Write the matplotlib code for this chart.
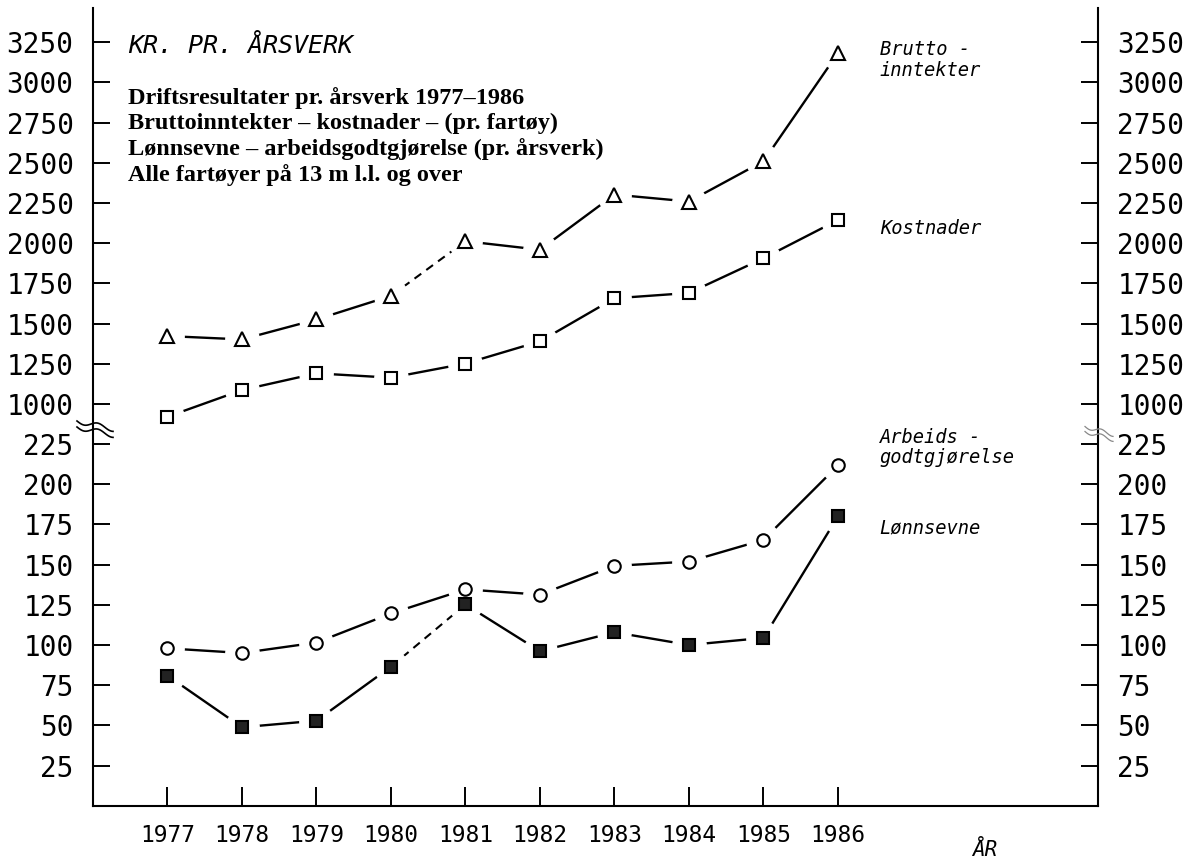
import numpy as np
import matplotlib
matplotlib.use("Agg")
import matplotlib.pyplot as plt

# ---------------- data ----------------
years = [1977, 1978, 1979, 1980, 1981, 1982, 1983, 1984, 1985, 1986]
brutto = [1422, 1401, 1525, 1672, 2012, 1959, 2302, 2259, 2510, 3183]
kostnader = [920, 1086, 1190, 1163, 1251, 1389, 1657, 1690, 1906, 2144]
arbeid = [97.9, 95.0, 101.5, 119.6, 134.6, 131.3, 149.2, 151.9, 165.4, 211.7]
lonnsevne = [80.9, 48.8, 52.9, 86.5, 125.2, 96.1, 107.9, 100.0, 104.4, 180.0]

lower_ticks = [25, 50, 75, 100, 125, 150, 175, 200, 225]
upper_ticks = [1000, 1250, 1500, 1750, 2000, 2250, 2500, 2750, 3000, 3250]

title = "KR. PR. ÅRSVERK"
info_lines = ["Driftsresultater pr. årsverk 1977–1986",
              "Bruttoinntekter – kostnader – (pr. fartøy)",
              "Lønnsevne – arbeidsgodtgjørelse (pr. årsverk)",
              "Alle fartøyer på 13 m l.l. og over"]
xlabel = "ÅR"

plt.rcParams['font.family'] = ['DejaVu Sans Mono', 'DejaVu Sans']

W, H = 1188, 864
fig = plt.figure(figsize=(W / 100, H / 100), dpi=100)
ax_bottom_px, ax_top_px = 805.7, 8.0
ax = fig.add_axes([93 / W, (H - ax_bottom_px) / H, (1098 - 93) / W,
                   (ax_bottom_px - ax_top_px) / H])

# broken y scale: lower part 25 per unit, upper part 250 per unit
V = np.array([-1000., 235., 900., 10000.])
U = np.array([-40., 9.4, 9.6, 46.])
def fwd(v):
    return np.interp(v, V, U)
def inv(u):
    return np.interp(u, U, V)
ax.set_yscale('function', functions=(fwd, inv))
ax.set_ylim(0, 3463)
ax.set_xlim(1976, 1989.49)

def draw(vals, dashed=None):
    for i in range(len(years) - 1):
        if i == dashed:
            ax.plot(years[i:i + 2], vals[i:i + 2], color='k', lw=1.5,
                    linestyle=(0, (4, 3)), zorder=2)
        else:
            ax.plot(years[i:i + 2], vals[i:i + 2], color='k', lw=1.7, zorder=2)
    ax.plot(years, vals, ls='none', marker='o', ms=24, mfc='white',
            mec='white', zorder=3)

draw(brutto, dashed=3)
draw(kostnader)
draw(arbeid)
draw(lonnsevne, dashed=3)
for vals, marker, ms, face in [(brutto, '^', 10, 'white'),
                               (kostnader, 's', 9, 'white'),
                               (arbeid, 'o', 9, 'white'),
                               (lonnsevne, 's', 9, '#222222')]:
    ax.plot(years, vals, ls='none', marker=marker, ms=ms, mfc=face,
            mec='k', mew=1.5, zorder=4)

# axes styling
ax.spines['top'].set_visible(False)
for s in ['left', 'right', 'bottom']:
    ax.spines[s].set_linewidth(1.5)

ax.set_yticks(lower_ticks + upper_ticks)
ax.set_yticklabels([str(t) for t in lower_ticks + upper_ticks])
ax.set_xticks(years)
ax.set_xticklabels([str(y) for y in years])
ax.yaxis.set_minor_locator(matplotlib.ticker.NullLocator())
ax.tick_params(axis='y', which='both', direction='in', length=12, width=1.4,
               left=True, right=True, labelleft=True, labelright=True,
               labelsize=20, pad=14)
ax.tick_params(axis='x', direction='in', length=13.5, width=1.4,
               labelsize=16.5, pad=13)

# axis break marks (wavy lines across the spines)
t = np.linspace(0, 1, 60)
def squiggle(xc_px, yc_px, w_px, amp_px, gap_px, color, lw):
    for k in (-0.5, 0.5):
        xs = xc_px + (t - 0.5) * w_px
        ys = yc_px + k * gap_px + amp_px * np.sin(2 * np.pi * 1.3 * t) + (t - 0.5) * 8
        ax.plot((xs - 93) / 1005, (ax_bottom_px - ys) / (ax_bottom_px - ax_top_px),
                transform=ax.transAxes, color=color, lw=lw, clip_on=False, zorder=5)
squiggle(95, 428, 36, 2.5, 6, 'k', 1.2)
squiggle(1099, 433, 28, 2.0, 5, '#888888', 0.9)

# series labels
lab_kw = dict(textcoords='offset points', ha='left', va='center',
              fontsize=13.5, style='italic', linespacing=1.1)
ax.annotate("Brutto -\ninntekter", xy=(years[-1], brutto[-1]), xytext=(30, -5), **lab_kw)
ax.annotate("Kostnader", xy=(years[-1], kostnader[-1]), xytext=(30, -6.3), **lab_kw)
ax.annotate("Arbeids -\ngodtgjørelse", xy=(years[-1], arbeid[-1]), xytext=(30, 13), **lab_kw)
ax.annotate("Lønnsevne", xy=(years[-1], lonnsevne[-1]), xytext=(30, -8), **lab_kw)

# titles
fig.text(128 / W, 1 - 53 / H, title, fontsize=18, style='italic',
         ha='left', va='baseline')
for i, line in enumerate(info_lines):
    fig.text(128 / W, 1 - (104 + 25.5 * i) / H, line, fontsize=17.5,
             family='Liberation Serif', weight='bold', ha='left', va='baseline')
fig.text(985 / W, 1 - 850 / H, xlabel, fontsize=15, style='italic',
         ha='center', va='center')

fig.savefig("out.png", dpi=100)
